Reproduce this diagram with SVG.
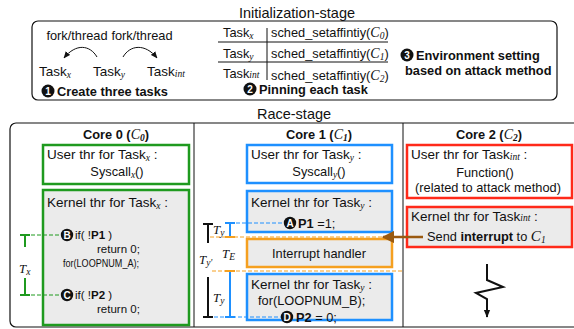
<svg xmlns="http://www.w3.org/2000/svg" width="574" height="329" viewBox="0 0 574 329">
<defs>
<style>
text{font-family:"Liberation Sans",Arial,sans-serif;font-size:12.8px;fill:#111}
.t{font-size:14.5px}
.b{font-weight:bold}
.h{font-weight:bold;font-size:12.8px}
.lb{font-size:13.5px}
.m{font-family:"Liberation Serif","Times New Roman",serif;font-style:italic}
.s{font-family:"Liberation Serif","Times New Roman",serif;font-style:italic;font-size:9.5px}
.c{font-size:11.5px}
.ct{fill:#fff;font-weight:bold;font-size:10px;text-anchor:middle}
.k{fill:#111}
.g{fill:none;stroke:#1f9a1f;stroke-width:2.5}
.gk{fill:#ebebeb;stroke:#1f9a1f;stroke-width:2.5}
.bl{fill:none;stroke:#1e90ff;stroke-width:2.5}
.blk{fill:#ebebeb;stroke:#1e90ff;stroke-width:2.5}
.r{fill:none;stroke:#ff2a1a;stroke-width:2.5}
.rk{fill:#ebebeb;stroke:#ff2a1a;stroke-width:2.5}
.o{fill:#ebebeb;stroke:#f5a020;stroke-width:2.5}
.dg{stroke:#1f9a1f;stroke-width:1;stroke-dasharray:4 2;fill:none}
.db{stroke:#1e90ff;stroke-width:1;stroke-dasharray:4 2;fill:none}
.do{stroke:#f5a020;stroke-width:1;stroke-dasharray:4 2;fill:none}
.ln{stroke:#111;stroke-width:1;fill:none}
</style>
<marker id="ah" viewBox="0 0 10 10" refX="9" refY="5" markerWidth="7" markerHeight="7" orient="auto"><path d="M0,1 L10,5 L0,9 z" fill="#111"/></marker>
<marker id="ab" viewBox="0 0 10 10" refX="9" refY="5" markerWidth="5" markerHeight="5" orient="auto"><path d="M0,0 L10,5 L0,10 z" fill="#9a5a10"/></marker>
<marker id="az" viewBox="0 0 10 10" refX="9" refY="5" markerWidth="4" markerHeight="4" orient="auto"><path d="M0,1 L10,5 L0,9 z" fill="#111"/></marker>
</defs>

<!-- Initialization stage -->
<text class="t" x="297" y="18" text-anchor="middle">Initialization-stage</text>
<rect x="32" y="21" width="525" height="79" rx="6" fill="none" stroke="#111" stroke-width="1.2"/>

<g id="create-tasks">
<text x="77" y="40" text-anchor="middle" font-size="10">fork/thread</text>
<text x="142" y="40" text-anchor="middle" font-size="10">fork/thread</text>
<text class="lb" x="39" y="76">Task<tspan class="s" dy="2">x</tspan></text>
<text class="lb" x="93" y="76">Task<tspan class="s" dy="2">y</tspan></text>
<text class="lb" x="147" y="76">Task<tspan class="s" dy="1">int</tspan></text>
<circle cx="48" cy="91" r="6.5" class="k"/><text class="ct" x="48" y="94.6">1</text>
<text class="b" x="57" y="95.5" font-size="13">Create three tasks</text>
</g>

<g id="pinning">
<text x="223" y="37" font-size="13">Task<tspan class="s" dy="2">x</tspan></text>
<text x="223" y="58" font-size="13">Task<tspan class="s" dy="2">y</tspan></text>
<text x="223" y="78" font-size="11.5">Task<tspan class="s" dy="0">int</tspan></text>
<line class="ln" x1="267" y1="28" x2="267" y2="80"/>
<line class="ln" x1="218" y1="42" x2="388" y2="42"/>
<line class="ln" x1="218" y1="62" x2="388" y2="62"/>
<text x="271" y="37">sched_setaffintiy(<tspan class="m" font-size="14">C</tspan><tspan class="s" dy="2">0</tspan><tspan dy="-2">)</tspan></text>
<text x="271" y="58">sched_setaffintiy(<tspan class="m" font-size="14">C</tspan><tspan class="s" dy="2">1</tspan><tspan dy="-2">)</tspan></text>
<text x="271" y="80">sched_setaffintiy(<tspan class="m" font-size="14">C</tspan><tspan class="s" dy="2">2</tspan><tspan dy="-2">)</tspan></text>
<circle cx="250" cy="89" r="6.5" class="k"/><text class="ct" x="250" y="92.6">2</text>
<text class="b" x="259" y="93.5" font-size="13">Pinning each task</text>
</g>

<g id="env-setting">
<circle cx="407" cy="55" r="6.5" class="k"/><text class="ct" x="407" y="58.6">3</text>
<text class="b" x="416" y="59.5" font-size="13">Environment setting</text>
<text class="b" x="405" y="74.5" font-size="13">based on attack method</text>
</g>

<g id="init-connectors">
<path d="M97,57 C90,45 76,43 64,58" class="ln" stroke-width="1.2" marker-end="url(#ah)"/>
<path d="M123,57 C130,45 145,43 157,58" class="ln" stroke-width="1.2" marker-end="url(#ah)"/>
</g>

<!-- Race stage -->
<text class="t" x="294" y="119" text-anchor="middle">Race-stage</text>
<rect x="10" y="123" width="580" height="204" rx="6" fill="none" stroke="#111" stroke-width="1.2"/>
<line class="ln" x1="194" y1="123" x2="194" y2="327" stroke-width="1.2"/>
<line class="ln" x1="403" y1="123" x2="403" y2="327" stroke-width="1.2"/>

<g id="core0">
<text class="h" x="116" y="139" text-anchor="middle">Core 0 (<tspan class="m" font-weight="normal" font-size="14">C</tspan><tspan class="s" dy="2">0</tspan><tspan dy="-2">)</tspan></text>
<rect class="g" x="43" y="145" width="146" height="39"/>
<text class="lb" x="47" y="159">User thr for Task<tspan class="s" dy="2">x</tspan><tspan dy="-2"> :</tspan></text>
<text x="117" y="176" text-anchor="middle">Syscall<tspan class="s" dy="2">x</tspan><tspan dy="-2">()</tspan></text>
<rect class="gk" x="43" y="190" width="146" height="135"/>
<text class="lb" x="47" y="207">Kernel thr for Task<tspan class="s" dy="2">x</tspan><tspan dy="-2"> :</tspan></text>
<circle cx="67" cy="235" r="6.2" class="k"/><text class="ct" x="67" y="238.6">B</text>
<text class="c" x="75" y="239">if( !<tspan class="b">P1</tspan> )</text>
<text class="c" x="97" y="253">return 0;</text>
<text class="c" x="63" y="267" textLength="76" lengthAdjust="spacingAndGlyphs">for(LOOPNUM_A);</text>
<circle cx="67" cy="295" r="6.2" class="k"/><text class="ct" x="67" y="298.6">C</text>
<text class="c" x="75" y="299">if( !<tspan class="b">P2</tspan> )</text>
<text class="c" x="97" y="313">return 0;</text>
</g>

<g id="core1">
<text class="h" x="319" y="139" text-anchor="middle">Core 1 (<tspan class="m" font-weight="normal" font-size="14">C</tspan><tspan class="s" dy="2">1</tspan><tspan dy="-2">)</tspan></text>
<rect class="bl" x="247" y="145" width="145" height="38"/>
<text class="lb" x="251" y="159">User thr for Task<tspan class="s" dy="2">y</tspan><tspan dy="-2"> :</tspan></text>
<text x="319" y="176" text-anchor="middle">Syscall<tspan class="s" dy="2">y</tspan><tspan dy="-2">()</tspan></text>
<rect class="blk" x="247" y="191" width="145" height="41"/>
<text class="lb" x="251" y="207">Kernel thr for Task<tspan class="s" dy="2">y</tspan><tspan dy="-2"> :</tspan></text>
<circle cx="290" cy="223" r="6.2" class="k"/><text class="ct" x="290" y="226.6">A</text>
<text x="298" y="227.5"><tspan class="b">P1</tspan> =1;</text>
<rect class="o" x="247" y="239" width="145" height="28"/>
<text x="319" y="257.5" text-anchor="middle" font-size="12.5">Interrupt handler</text>
<rect class="blk" x="247" y="274" width="145" height="46"/>
<text class="lb" x="251" y="289">Kernel thr for Task<tspan class="s" dy="2">y</tspan><tspan dy="-2"> :</tspan></text>
<text x="258" y="305" font-size="13.5">for(LOOPNUM_B);</text>
<circle cx="287" cy="317" r="6.2" class="k"/><text class="ct" x="287" y="320.6">D</text>
<text x="296" y="321.5"><tspan class="b">P2</tspan> = 0;</text>
</g>

<g id="core2">
<text class="h" x="489" y="139" text-anchor="middle">Core 2 (<tspan class="m" font-weight="normal" font-size="14">C</tspan><tspan class="s" dy="2">2</tspan><tspan dy="-2">)</tspan></text>
<rect class="r" x="407" y="145" width="165" height="53"/>
<text class="lb" x="411" y="159">User thr for Task<tspan class="s" dy="1">int</tspan><tspan dy="-1"> :</tspan></text>
<text x="485" y="177" text-anchor="middle" font-size="12.3">Function()</text>
<text x="488" y="192" text-anchor="middle" font-size="13">(related to attack method)</text>
<rect class="rk" x="407" y="207" width="165" height="40"/>
<text class="lb" x="411" y="221">Kernel thr for Task<tspan class="s" dy="0">int</tspan> :</text>
<text x="427" y="241">Send <tspan class="b">interrupt</tspan> to <tspan class="m" font-size="15">C</tspan><tspan class="s" dy="2">1</tspan></text>
</g>

<g id="connectors">
<!-- core 0 timing -->
<path class="dg" d="M25,235 H61 M25,295 H61"/>
<path d="M20,235 H30 M25,235 V247 M25,278 V295 M20,295 H30" stroke="#1f9a1f" stroke-width="2" fill="none"/>
<text class="m" x="19" y="273" font-size="14">T<tspan class="s" dy="2">x</tspan></text>
<!-- core 1 timing -->
<path class="db" d="M230,223 H284 M208,317 H281"/>
<path class="do" d="M210,237 H384 M212,271 H402"/>
<path d="M203,224 H213 M208,224 V243 M208,277 V317 M203,317 H213" stroke="#111" stroke-width="2" fill="none"/>
<path d="M225,223 H235 M230,223 V237 M230,271 V317 M225,317 H235" stroke="#1e90ff" stroke-width="2" fill="none"/>
<path d="M225,237 H235 M225,271 H235" stroke="#f5a020" stroke-width="2" fill="none"/>
<text class="m" x="213" y="234" font-size="14">T<tspan class="s" dy="2">y</tspan></text>
<text class="m" x="199" y="264" font-size="14">T<tspan class="s" dy="2">y'</tspan></text>
<text class="m" x="222" y="258" font-size="14">T<tspan class="s" dy="2">E</tspan></text>
<text class="m" x="213" y="302" font-size="14">T<tspan class="s" dy="2">y</tspan></text>
<!-- interrupt arrow -->
<line x1="423" y1="237" x2="383" y2="237" stroke="#9a5a10" stroke-width="2.5" marker-end="url(#ab)"/>
<!-- zigzag -->
<path d="M487,264 V280 L503,287 L476,293 L487,299 V317" stroke="#111" stroke-width="2" fill="none" marker-end="url(#az)"/>
</g>
</svg>
